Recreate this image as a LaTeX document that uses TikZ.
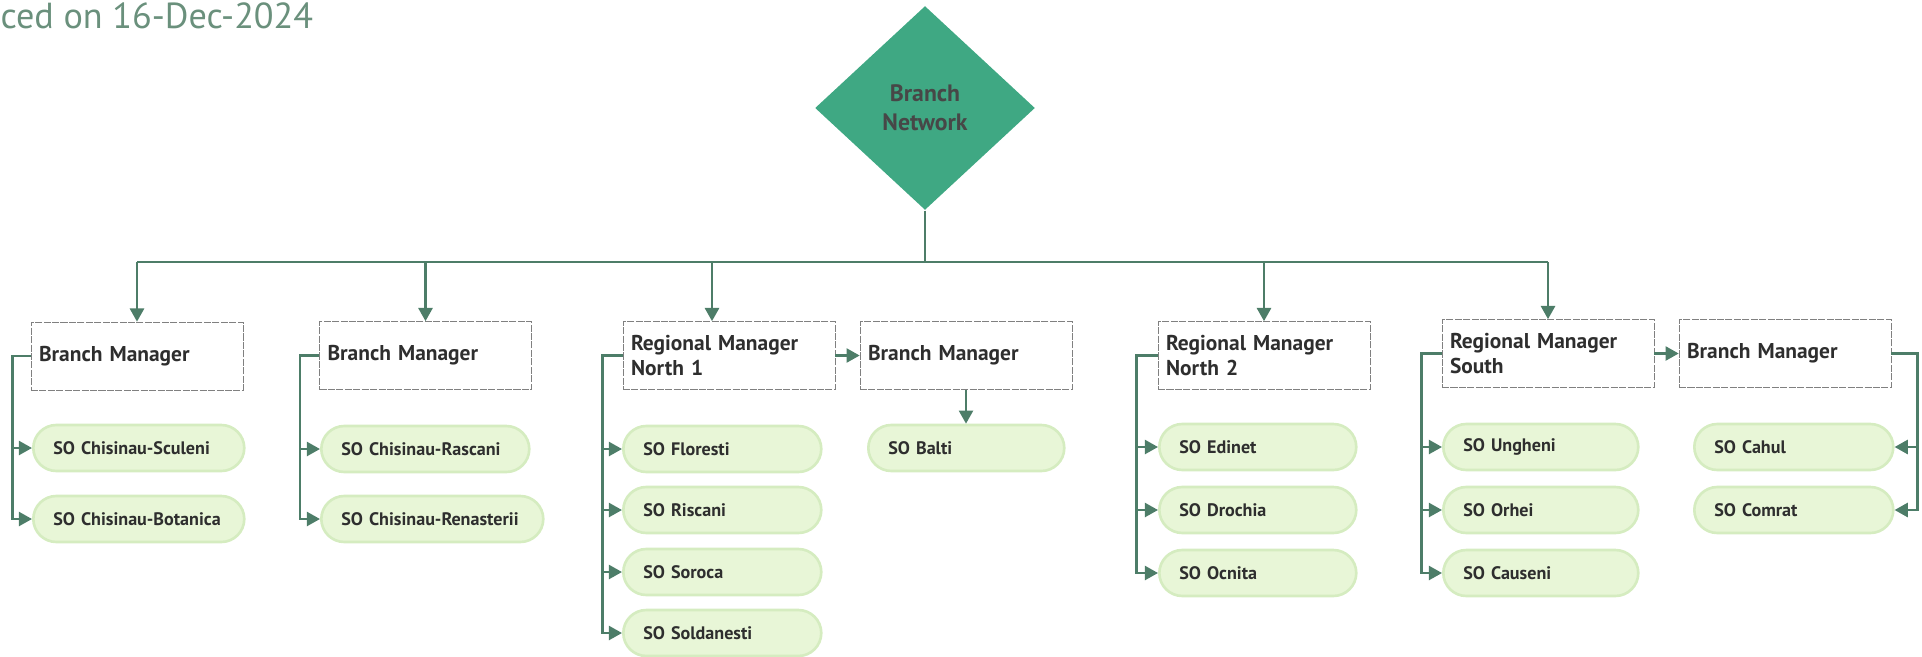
\documentclass[tikz,border=0pt]{standalone}
\usepackage{fontspec}
\setmainfont{PT Sans}
\usepackage{tikz}
\usetikzlibrary{shapes.geometric,arrows.meta,positioning,calc}
\definecolor{netgreen}{HTML}{3FA883}
\definecolor{linkgreen}{HTML}{4D7D68}
\definecolor{pillfill}{HTML}{E8F6D7}
\definecolor{pillrim}{HTML}{D5ECC0}
\definecolor{stampgreen}{HTML}{6A907C}
\definecolor{inkgrey}{HTML}{2E2E2E}
\newcommand{\Office}[1]{\mbox{SO #1}}

\begin{document}
\begin{tikzpicture}[x=0.02cm, y=-0.02cm, ->, >={Triangle[width=8pt,length=7.5pt]}, semithick]
		\tikzstyle{box}=[draw=black!50, dash pattern=on 4pt off 0.8pt, line width=0.4pt, fill=white,
		text=inkgrey, font=\bfseries\fontsize{12.2}{13.7}\selectfont, align=left,
		text width=3.92cm, inner xsep=0.16cm, minimum height=1.36cm]
		\tikzstyle{pill}=[draw=pillrim, line width=1.5pt, fill=pillfill, rounded corners=0.46cm,
		text=inkgrey, font=\bfseries\fontsize{10.3}{12}\selectfont, align=left,
		inner xsep=0.4cm, minimum height=0.92cm, anchor=west]
		\tikzstyle{link}=[draw=linkgreen, line width=1.4pt]

		\useasboundingbox (0,0) rectangle (1922,656);

		\node[anchor=base west, inner sep=0, text=stampgreen, font=\fontsize{20.6}{22}\selectfont]
		(stamp) at (0,28) {ced on 16-Dec-2024};

		\node[shape=diamond, fill=netgreen, inner sep=0, minimum width=4.4cm, minimum height=4.08cm,
		text=black!72, font=\bfseries\fontsize{13.5}{16.5}\selectfont, align=center]
		(net) at (925,108) {Branch\\Network};

		\begin{scope}
			\node[box] (bm1) at (137,356) {Branch Manager};
			\node[box] (bm2) at (425.5,355.5) {Branch Manager};
			\node[box] (rn1) at (729,355.5) {Regional Manager\\North 1};
			\node[box] (bm3) at (966,355.5) {Branch Manager};
			\node[box] (rn2) at (1264,355.5) {Regional Manager\\North 2};
			\node[box] (rs) at (1548,353.5) {Regional Manager\\South};
			\node[box] (bm4) at (1785,353.5) {Branch Manager};
		\end{scope}

		\begin{scope}
			\node[pill, text width=3.42cm] (sculeni) at (32,448) {\Office{Chisinau-Sculeni}};
			\node[pill, text width=3.42cm] (botanica) at (32,519) {\Office{Chisinau-Botanica}};
			\node[pill, text width=3.36cm] (rascani) at (320,449) {\Office{Chisinau-Rascani}};
			\node[pill, text width=3.64cm] (renasterii) at (320,519) {\Office{Chisinau-Renasterii}};
			\node[pill, text width=3.16cm] (floresti) at (622,449) {\Office{Floresti}};
			\node[pill, text width=3.16cm] (riscani) at (622,510) {\Office{Riscani}};
			\node[pill, text width=3.16cm] (soroca) at (622,572) {\Office{Soroca}};
			\node[pill, text width=3.16cm] (soldanesti) at (622,633) {\Office{Soldanesti}};
			\node[pill, text width=3.12cm] (balti) at (867,448) {\Office{Balti}};
			\node[pill, text width=3.14cm] (edinet) at (1158,447) {\Office{Edinet}};
			\node[pill, text width=3.14cm] (drochia) at (1158,510) {\Office{Drochia}};
			\node[pill, text width=3.14cm] (ocnita) at (1158,573) {\Office{Ocnita}};
			\node[pill, text width=3.10cm] (ungheni) at (1442,447) {\Office{Ungheni}};
			\node[pill, text width=3.10cm] (orhei) at (1442,510) {\Office{Orhei}};
			\node[pill, text width=3.10cm] (causeni) at (1442,573) {\Office{Causeni}};
			\node[pill, text width=3.18cm] (cahul) at (1693,447) {\Office{Cahul}};
			\node[pill, text width=3.18cm] (comrat) at (1693,510) {\Office{Comrat}};
		\end{scope}

		% top of the tree
		\coordinate (hub) at (925,262);
		\coordinate (rn1in) at ([xshift=-0.34cm]rn1.north);
		\draw[link,-] (net.south) -- (hub);
		\draw[link,-] (hub -| bm1.north) -- (hub -| rs.north);
		\draw[link] (hub -| bm1.north) -- (bm1.north);
		\draw[link] (hub -| bm2.north) -- (bm2.north);
		\draw[link] (hub -| rn1in) -- (rn1in);
		\draw[link] (hub -| rn2.north) -- (rn2.north);
		\draw[link] (hub -| rs.north) -- (rs.north);

		% managers to managers
		\draw[link] (rn1.east) -- (bm3.west);
		\draw[link] (rs.east) -- (bm4.west);
		\draw[link] (bm3.south) -- (bm3.south |- balti.north);

		% managers to offices
		\draw[link] (bm1.west) -- ++(-18,0) |- (sculeni.west);
		\draw[link] (bm1.west) -- ++(-18,0) |- (botanica.west);
		\draw[link] (bm2.west) -- ++(-19,0) |- (rascani.west);
		\draw[link] (bm2.west) -- ++(-19,0) |- (renasterii.west);
		\draw[link] (rn1.west) -- ++(-20,0) |- (floresti.west);
		\draw[link] (rn1.west) -- ++(-20,0) |- (riscani.west);
		\draw[link] (rn1.west) -- ++(-20,0) |- (soroca.west);
		\draw[link] (rn1.west) -- ++(-20,0) |- (soldanesti.west);
		\draw[link] (rn2.west) -- ++(-21,0) |- (edinet.west);
		\draw[link] (rn2.west) -- ++(-21,0) |- (drochia.west);
		\draw[link] (rn2.west) -- ++(-21,0) |- (ocnita.west);
		\draw[link] (rs.west) -- ++(-20,0) |- (ungheni.west);
		\draw[link] (rs.west) -- ++(-20,0) |- (orhei.west);
		\draw[link] (rs.west) -- ++(-20,0) |- (causeni.west);
		\draw[link] (bm4.east) -- ++(26,0) |- (cahul.east);
		\draw[link] (bm4.east) -- ++(26,0) |- (comrat.east);
	\end{tikzpicture}
\end{document}
